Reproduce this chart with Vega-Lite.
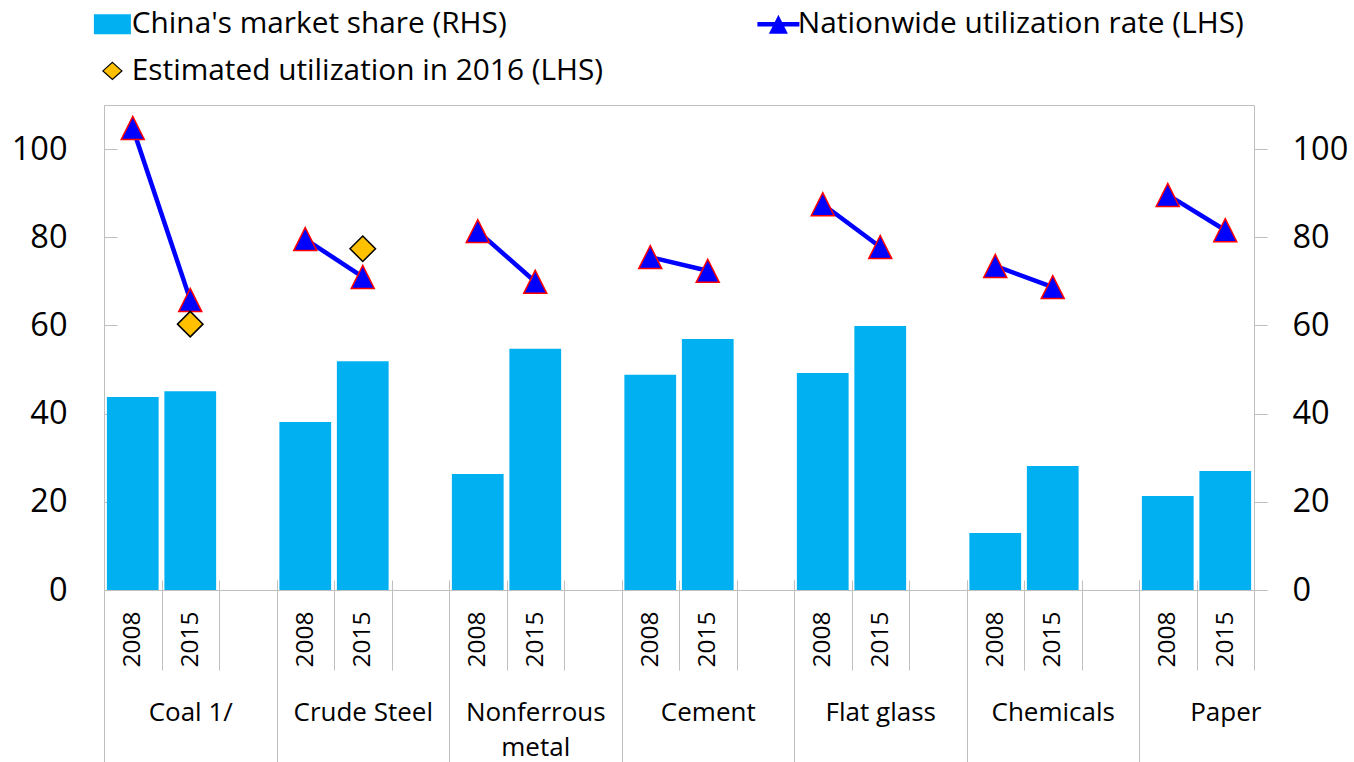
{
  "$schema": "https://vega.github.io/schema/vega-lite/v6.json",
  "width": 1150,
  "height": 485,
  "autosize": {"type": "none"},
  "padding": {"left": 104, "top": 105, "right": 100, "bottom": 172},
  "background": "white",
  "config": {
    "view": {"stroke": "#bfbfbf", "strokeWidth": 1},
    "font": "Open Sans",
    "axis": {"labelFont": "Open Sans", "labelColor": "#000000"},
    "legend": {"labelFont": "Open Sans", "labelColor": "#000000"}
  },
  "datasets": {
    "share": [
      {"slot": "Coal 1/|2008", "group": "Coal 1/", "year": "2008", "series": "China's market share (RHS)", "share": 43.8},
      {"slot": "Coal 1/|2015", "group": "Coal 1/", "year": "2015", "series": "China's market share (RHS)", "share": 45.1},
      {"slot": "Crude Steel|2008", "group": "Crude Steel", "year": "2008", "series": "China's market share (RHS)", "share": 38.1},
      {"slot": "Crude Steel|2015", "group": "Crude Steel", "year": "2015", "series": "China's market share (RHS)", "share": 51.9},
      {"slot": "Nonferrous metal|2008", "group": "Nonferrous metal", "year": "2008", "series": "China's market share (RHS)", "share": 26.3},
      {"slot": "Nonferrous metal|2015", "group": "Nonferrous metal", "year": "2015", "series": "China's market share (RHS)", "share": 54.7},
      {"slot": "Cement|2008", "group": "Cement", "year": "2008", "series": "China's market share (RHS)", "share": 48.8},
      {"slot": "Cement|2015", "group": "Cement", "year": "2015", "series": "China's market share (RHS)", "share": 56.9},
      {"slot": "Flat glass|2008", "group": "Flat glass", "year": "2008", "series": "China's market share (RHS)", "share": 49.2},
      {"slot": "Flat glass|2015", "group": "Flat glass", "year": "2015", "series": "China's market share (RHS)", "share": 59.9},
      {"slot": "Chemicals|2008", "group": "Chemicals", "year": "2008", "series": "China's market share (RHS)", "share": 12.9},
      {"slot": "Chemicals|2015", "group": "Chemicals", "year": "2015", "series": "China's market share (RHS)", "share": 28.1},
      {"slot": "Paper|2008", "group": "Paper", "year": "2008", "series": "China's market share (RHS)", "share": 21.3},
      {"slot": "Paper|2015", "group": "Paper", "year": "2015", "series": "China's market share (RHS)", "share": 27.0}
    ],
    "util": [
      {"slot": "Coal 1/|2008", "group": "Coal 1/", "year": "2008", "util": 104.8},
      {"slot": "Coal 1/|2015", "group": "Coal 1/", "year": "2015", "util": 65.8},
      {"slot": "Crude Steel|2008", "group": "Crude Steel", "year": "2008", "util": 79.6},
      {"slot": "Crude Steel|2015", "group": "Crude Steel", "year": "2015", "util": 71.0},
      {"slot": "Nonferrous metal|2008", "group": "Nonferrous metal", "year": "2008", "util": 81.4},
      {"slot": "Nonferrous metal|2015", "group": "Nonferrous metal", "year": "2015", "util": 69.9},
      {"slot": "Cement|2008", "group": "Cement", "year": "2008", "util": 75.5},
      {"slot": "Cement|2015", "group": "Cement", "year": "2015", "util": 72.4},
      {"slot": "Flat glass|2008", "group": "Flat glass", "year": "2008", "util": 87.5},
      {"slot": "Flat glass|2015", "group": "Flat glass", "year": "2015", "util": 77.8},
      {"slot": "Chemicals|2008", "group": "Chemicals", "year": "2008", "util": 73.5},
      {"slot": "Chemicals|2015", "group": "Chemicals", "year": "2015", "util": 68.7},
      {"slot": "Paper|2008", "group": "Paper", "year": "2008", "util": 89.6},
      {"slot": "Paper|2015", "group": "Paper", "year": "2015", "util": 81.6}
    ],
    "est": [
      {"slot": "Coal 1/|2015", "group": "Coal 1/", "est": 60.3},
      {"slot": "Crude Steel|2015", "group": "Crude Steel", "est": 77.4}
    ]
  },
  "layer": [
    {
      "data": {"name": "share"},
      "mark": {"type": "bar", "width": {"band": 0.9}},
      "encoding": {
        "x": {
          "field": "slot", "type": "nominal",
          "scale": {"domain": ["Coal 1/|2008","Coal 1/|2015","Coal 1/|","Crude Steel|2008","Crude Steel|2015","Crude Steel|","Nonferrous metal|2008","Nonferrous metal|2015","Nonferrous metal|","Cement|2008","Cement|2015","Cement|","Flat glass|2008","Flat glass|2015","Flat glass|","Chemicals|2008","Chemicals|2015","Chemicals|","Paper|2008","Paper|2015"], "paddingInner": 0, "paddingOuter": 0},
          "axis": {"orient": "bottom", "offset": -10, "domain": false, "grid": false, "tickBand": "extent", "tickSize": 90, "tickColor": "#bfbfbf", "tickWidth": 1, "labelExpr": "split(datum.value,'|')[1]", "labelAngle": 270, "labelAlign": "right", "labelBaseline": "middle", "labelPadding": -59, "labelFontSize": 24.5, "labelOverlap": false, "title": null}
        },
        "y": {
          "field": "share", "type": "quantitative",
          "scale": {"domain": [0, 110], "nice": false},
          "axis": {"orient": "left", "values": [0,20,40,60,80,100], "domain": false, "grid": false, "tickSize": -13, "tickColor": "#bfbfbf", "labelFontSize": 32.5, "labelPadding": 50, "title": null}
        },
        "color": {
          "field": "series", "type": "nominal",
          "scale": {"domain": ["China's market share (RHS)", "Nationwide utilization rate (LHS)", "Estimated utilization in 2016 (LHS)"], "range": ["#00b0f0", "#0000ff", "#ffc000"]},
          "legend": {
            "title": null, "orient": "none", "legendX": -6.5, "legendY": -95.7, "direction": "horizontal",
            "columns": 2, "columnPadding": 153, "rowPadding": 15.7, "padding": 0,
            "symbolSize": 1764, "labelFontSize": 29.8, "labelOffset": 4.5, "labelLimit": 600,
            "encode": {
              "symbols": {
                "update": {
                  "shape": {"signal": "datum.index === 0 ? 'M-0.881,-0.476H0.881V0.476H-0.881Z' : datum.index === 1 ? 'M-1,-0.107H1V0.107H-1Z M0,-0.452L0.452,0.452H-0.452Z' : 'M0,-0.405L0.452,0L0,0.405L-0.452,0Z'"},
                  "fill": {"signal": "datum.index === 0 ? '#00b0f0' : datum.index === 1 ? '#0000ff' : '#ffc000'"},
                  "stroke": {"signal": "datum.index === 2 ? '#000000' : 'transparent'"},
                  "strokeWidth": {"signal": "datum.index === 2 ? 1.2 : 0"},
                  "opacity": {"value": 1}
                }
              }
            }
          }
        }
      }
    },
    {
      "data": {"name": "util"},
      "mark": {"type": "line", "color": "#0000ff", "strokeWidth": 4.5},
      "encoding": {
        "x": {
          "field": "slot", "type": "nominal",
          "axis": {"orient": "bottom", "offset": -10, "domain": false, "grid": false, "tickBand": "extent", "tickSize": 182, "tickColor": "#bfbfbf", "tickWidth": 1,
            "tickOpacity": {"condition": {"test": "datum.extra || indexof(['Coal 1/|','Crude Steel|','Nonferrous metal|','Cement|','Flat glass|','Chemicals|'], datum.value) >= 0", "value": 1}, "value": 0},
            "labelExpr": "split(datum.value,'|')[1] == '2015' ? (split(datum.value,'|')[0] == 'Nonferrous metal' ? ['Nonferrous','metal'] : split(datum.value,'|')[0]) : ''",
            "labelAngle": 0, "labelAlign": "center", "labelBaseline": "top", "labelPadding": -63, "labelFontSize": 26, "labelLineHeight": 35, "labelOverlap": false, "labelLimit": 400, "title": null}
        },
        "y": {
          "field": "util", "type": "quantitative",
          "axis": {"orient": "right", "values": [0,20,40,60,80,100], "domain": false, "grid": false, "tickSize": 13, "tickColor": "#bfbfbf", "labelFontSize": 32.5, "labelPadding": 25, "title": null}
        },
        "detail": {"field": "group"}
      }
    },
    {
      "data": {"name": "util"},
      "mark": {"type": "point", "shape": "M0,-1L1,1H-1Z", "size": 530, "filled": true, "fill": "#0000ff", "stroke": "#ff0000", "strokeWidth": 1.5, "opacity": 1},
      "encoding": {
        "x": {"field": "slot", "type": "nominal", "axis": null},
        "y": {"field": "util", "type": "quantitative", "axis": null}
      }
    },
    {
      "data": {"name": "est"},
      "mark": {"type": "point", "shape": "diamond", "size": 650, "filled": true, "fill": "#ffc000", "stroke": "#000000", "strokeWidth": 1.5, "opacity": 1},
      "encoding": {
        "x": {"field": "slot", "type": "nominal", "axis": null},
        "y": {"field": "est", "type": "quantitative", "axis": null}
      }
    }
  ],
  "resolve": {"axis": {"x": "independent", "y": "independent"}}
}
